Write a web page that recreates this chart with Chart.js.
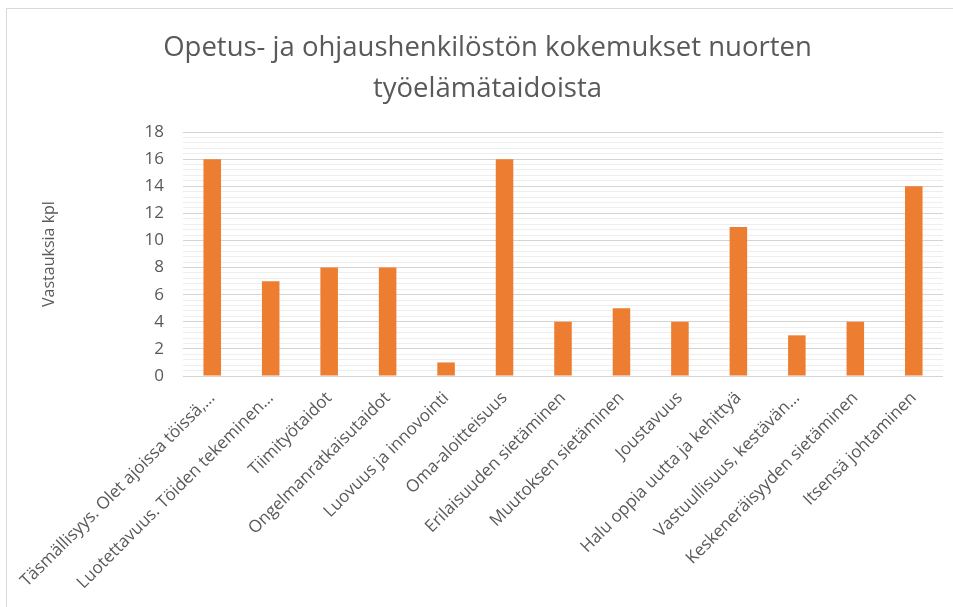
<!DOCTYPE html>
<html>
<head>
<meta charset="utf-8">
<script src="https://cdn.jsdelivr.net/npm/chart.js@4/dist/chart.umd.min.js"></script>
<style>
    html, body { margin: 0; padding: 0; background: #fff; }
    #wrap { position: relative; width: 953px; height: 607px; }
    #frame { position: absolute; left: 6px; top: 8px; width: 960px; height: 620px; border: 1px solid #d9d9d9; }
    canvas { position: absolute; left: 0; top: 0; }
</style>
</head>
<body>
<div id="wrap">
    <div id="frame"></div>
    <canvas id="chart" width="953" height="607"></canvas>
</div>
<script>
    // data
    const categories = [
        'Täsmällisyys. Olet ajoissa töissä,…',
        'Luotettavuus. Töiden tekeminen…',
        'Tiimityötaidot',
        'Ongelmanratkaisutaidot',
        'Luovuus ja innovointi',
        'Oma-aloitteisuus',
        'Erilaisuuden sietäminen',
        'Muutoksen sietäminen',
        'Joustavuus',
        'Halu oppia uutta ja kehittyä',
        'Vastuullisuus, kestävän…',
        'Keskeneräisyyden sietäminen',
        'Itsensä johtaminen'
    ];
    const answers = [16, 7, 8, 8, 1, 16, 4, 5, 4, 11, 3, 4, 14];
    const titleLines = ['Opetus- ja ohjaushenkilöstön kokemukset nuorten', 'työelämätaidoista'];
    const yTitle = 'Vastauksia kpl';
    const yMax = 18;

    const textColor = '#595959';
    const isMajor = v => Math.abs(v / 2 - Math.round(v / 2)) < 1e-6;

    new Chart(document.getElementById('chart').getContext('2d'), {
        type: 'bar',
        data: {
            labels: categories,
            datasets: [{
                label: yTitle,
                data: answers,
                backgroundColor: '#ed7d31',
                borderWidth: 0,
                categoryPercentage: 1,
                barPercentage: 0.3
            }]
        },
        options: {
            responsive: false,
            animation: false,
            layout: { padding: { left: 32, right: 10, top: 0, bottom: 0 } },
            plugins: {
                legend: { display: false },
                tooltip: { enabled: false },
                title: {
                    display: true,
                    text: titleLines,
                    color: textColor,
                    font: { family: 'Open Sans', size: 27.5, weight: 'normal', lineHeight: 1.51 },
                    padding: { top: 27, bottom: 22 }
                }
            },
            scales: {
                x: {
                    afterFit: scale => { scale.height = 231; },
                    grid: { display: false, drawTicks: false },
                    border: { display: false },
                    ticks: {
                        color: textColor,
                        font: { family: 'Open Sans', size: 17 },
                        minRotation: 45,
                        maxRotation: 45,
                        autoSkip: false,
                        padding: 12
                    }
                },
                y: {
                    min: 0,
                    max: yMax,
                    afterFit: scale => { scale.width = 151; },
                    border: { display: false },
                    grid: {
                        drawTicks: false,
                        color: ctx => isMajor(ctx.tick.value) ? '#d4d4d4' : '#eeeeee',
                        lineWidth: 1
                    },
                    ticks: {
                        stepSize: 0.4,
                        autoSkip: false,
                        color: textColor,
                        padding: 19,
                        font: { family: 'Open Sans', size: 17 },
                        callback: v => isMajor(v) ? Math.round(v) : ''
                    },
                    title: {
                        display: true,
                        text: yTitle,
                        color: textColor,
                        font: { family: 'Open Sans', size: 16 },
                        padding: { top: 8, bottom: 0 }
                    }
                }
            }
        }
    });
</script>
</body>
</html>
